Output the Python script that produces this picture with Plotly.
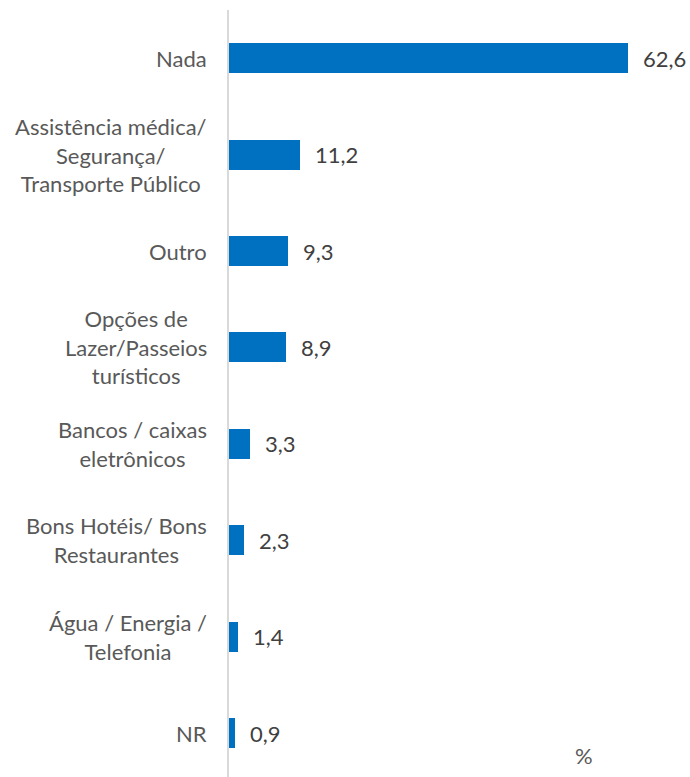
import plotly.graph_objects as go

# Survey answers and their shares (%)
categories = [
    "Nada",
    "Assistência médica/<br>Segurança/<br>Transporte Público",
    "Outro",
    "Opções de<br>Lazer/Passeios<br>turísticos",
    "Bancos / caixas<br>eletrônicos",
    "Bons Hotéis/ Bons<br>Restaurantes",
    "Água / Energia /<br>Telefonia",
    "NR",
]
values = [62.6, 11.2, 9.3, 8.9, 3.3, 2.3, 1.4, 0.9]
value_labels = [f"{v:.1f}".replace(".", ",") for v in values]

FONT = "Lato"
BAR_COLOR = "#0070C0"
LABEL_COLOR = "#595959"
VALUE_COLOR = "#404040"
FS = 22

ypos = list(range(len(categories)))

fig = go.Figure(
    go.Bar(
        x=values,
        y=ypos,
        orientation="h",
        marker=dict(color=BAR_COLOR, line=dict(width=0)),
        width=0.31,
        hoverinfo="skip",
    )
)

annotations = []
# category names, centred block, right-aligned to the axis
for i, name in enumerate(categories):
    annotations.append(dict(
        x=0, xref="paper", y=i, yref="y", text=name, showarrow=False,
        xanchor="right", yanchor="middle", align="center", xshift=-20,
        font=dict(family=FONT, size=FS, color=LABEL_COLOR),
    ))
# value labels to the right of each bar
for i, (v, lab) in enumerate(zip(values, value_labels)):
    annotations.append(dict(
        x=v, xref="x", y=i, yref="y", text=lab, showarrow=False,
        xanchor="left", yanchor="middle", xshift=13,
        font=dict(family=FONT, size=FS, color=VALUE_COLOR),
    ))
# unit marker
annotations.append(dict(
    x=0.795, xref="paper", y=0, yref="paper", text="%", showarrow=False,
    xanchor="center", yanchor="bottom", yshift=6,
    font=dict(family=FONT, size=FS, color=LABEL_COLOR),
))

fig.update_layout(
    width=690, height=777,
    margin=dict(l=229, r=15, t=10, b=0),
    paper_bgcolor="white", plot_bgcolor="white",
    showlegend=False,
    annotations=annotations,
    xaxis=dict(range=[0, 70], showgrid=False, zeroline=False,
               showticklabels=False, showline=False, fixedrange=True),
    yaxis=dict(range=[7.456, -0.5], autorange=False, showgrid=False,
               zeroline=False, showticklabels=False, ticks="",
               showline=True, linecolor="#D9D9D9", linewidth=2,
               fixedrange=True),
    bargap=0,
)

fig.write_html("out.html")
